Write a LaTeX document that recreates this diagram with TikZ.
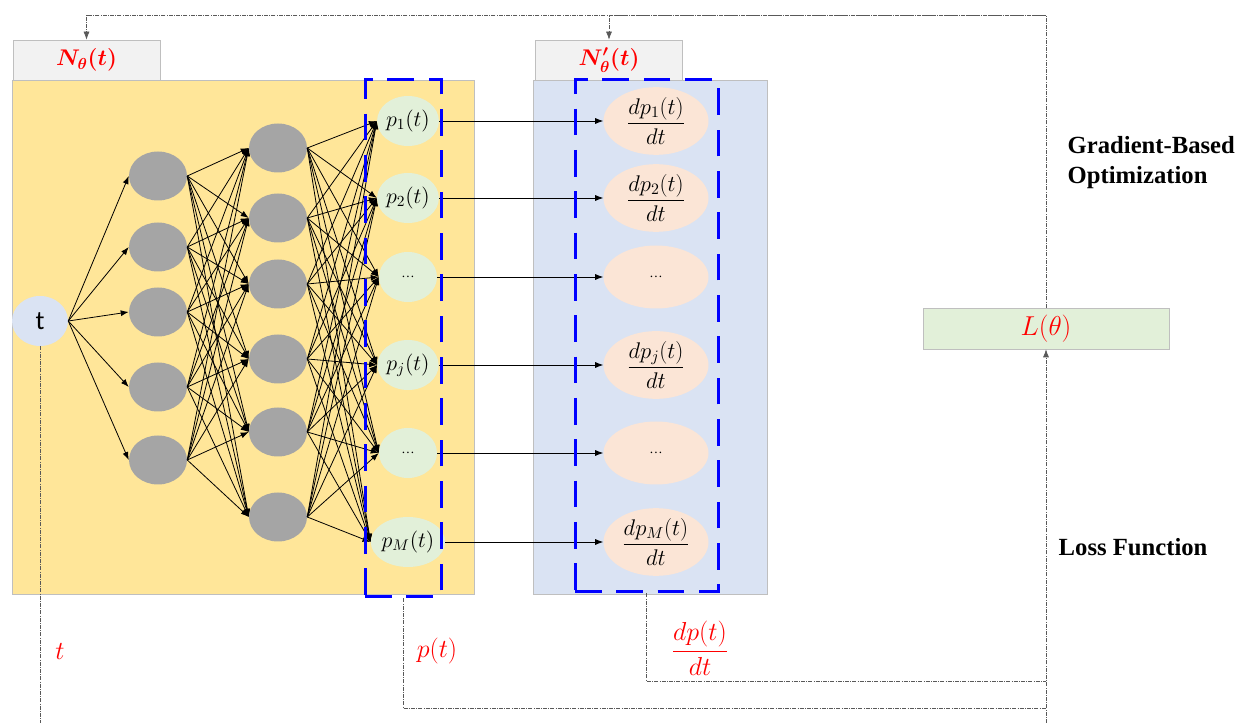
\RequirePackage{fix-cm}
\documentclass[tikz,border=0pt]{standalone}
\usepackage{amsmath}
\usepackage{fontspec}
\setmainfont{Liberation Serif}
\newfontfamily\calibri{Carlito}
\usetikzlibrary{arrows.meta, shapes.geometric}
\definecolor{nnyellow}{HTML}{FFE699}
\definecolor{nnblue}{HTML}{DAE3F3}
\definecolor{nngray}{HTML}{A5A5A5}
\definecolor{nngreen}{HTML}{E2F0D9}
\definecolor{nnpeach}{HTML}{FBE5D6}
\definecolor{nnlight}{HTML}{F2F2F2}
\definecolor{nnborder}{HTML}{BFBFBF}

\begin{document}
\begin{tikzpicture}[x=0.75pt, y=-0.75pt,
                inp/.style={ellipse, fill=nnblue, minimum width=42pt, minimum height=37.5pt, inner sep=0pt, font=\calibri\fontsize{20}{24}\selectfont},
                hid/.style={ellipse, fill=nngray, minimum width=43.5pt, minimum height=36.75pt, inner sep=0pt},
                outp/.style={ellipse, fill=nngreen, minimum width=43.5pt, minimum height=37.5pt, inner sep=0pt, font=\fontsize{16.5}{19}\selectfont},
                der/.style={ellipse, fill=nnpeach, minimum width=78.75pt, minimum height=47.25pt, inner sep=0pt, font=\fontsize{17}{20}\selectfont},
                tab/.style={rectangle, fill=nnlight, draw=nnborder, line width=0.5pt, minimum width=110.25pt, minimum height=30pt, inner sep=0pt, text=red, font=\fontsize{17}{20}\selectfont},
                grp/.style={rectangle, draw=blue, line width=2.25pt, dash pattern=on 20pt off 11pt, inner sep=0pt},
                link/.style={-{Latex[length=6pt,width=4.5pt]}, line width=0.6pt},
                flow/.style={draw=black!65, line width=0.5pt, densely dash dot},
                lbl/.style={text=red, font=\fontsize{19.5}{22}\selectfont},
                note/.style={font=\fontsize{18.5}{22.5}\selectfont\bfseries, align=left, anchor=west}]
                \useasboundingbox (0,0) rectangle (1240,723);
                \filldraw[fill=nnyellow, draw=nnborder, line width=0.5pt] (12,80) rectangle (474,594);
                \filldraw[fill=nnblue, draw=nnborder, line width=0.5pt] (533,80) rectangle (767,594);
                \node[tab] (nlab) at (86.5,60) {$\boldsymbol{N_\theta(t)}$};
                \node[tab] (nplab) at (609,60) {$\boldsymbol{N'_\theta(t)}$};
                \node[tab, fill=nngreen, minimum width=184.5pt, minimum height=30.75pt, font=\fontsize{20.5}{24}\selectfont] (L) at (1046,328.5) {$L(\theta)$};
                \node[inp] (t) at (40,321) {t};
                \node[hid] (a1) at (158,176) {};
                \node[hid] (a2) at (158,247) {};
                \node[hid] (a3) at (158,312) {};
                \node[hid] (a4) at (158,387) {};
                \node[hid] (a5) at (158,460) {};
                \node[hid] (b1) at (278,148) {};
                \node[hid] (b2) at (278,218) {};
                \node[hid] (b3) at (278,284) {};
                \node[hid] (b4) at (278,359) {};
                \node[hid] (b5) at (278,432) {};
                \node[hid] (b6) at (278,517) {};
                \node[outp] (p1) at (408,121) {$p_1(t)$};
                \node[outp] (p2) at (408,198) {$p_2(t)$};
                \node[outp, font=\fontsize{10}{12}\selectfont] (p3) at (408,277) {\dots};
                \node[outp] (p4) at (408,365) {$p_j(t)$};
                \node[outp, font=\fontsize{10}{12}\selectfont] (p5) at (408,453) {\dots};
                \node[outp] (p6) at (408,542) {$p_M(t)$};
                \node[der] (d1) at (656,121) {$\dfrac{dp_1(t)}{dt}$};
                \node[der] (d2) at (656,198) {$\dfrac{dp_2(t)}{dt}$};
                \node[der, font=\fontsize{10}{12}\selectfont] (d3) at (656,277) {\dots};
                \node[der] (d4) at (656,365) {$\dfrac{dp_j(t)}{dt}$};
                \node[der, font=\fontsize{10}{12}\selectfont] (d5) at (656,453) {\dots};
                \node[der] (d6) at (656,542) {$\dfrac{dp_M(t)}{dt}$};
                \foreach \i in {1,...,5}
                    \draw[link] (t.east) -- (a\i.west);
                \foreach \i in {1,...,5}
                    \foreach \j in {1,...,6}
                        \draw[link] (a\i.east) -- (b\j.west);
                \foreach \i in {1,...,6}
                    \foreach \j in {1,...,6}
                        \draw[link] (b\i.east) -- (p\j.west);
                \foreach \i in {1,...,6}
                    \draw[link] (p\i.east) -- (d\i.west);
                \node[grp, minimum width=57pt, minimum height=387.75pt] (pbox) at (403,338.5) {};
                \node[grp, minimum width=107.25pt, minimum height=384pt] (dbox) at (646.5,336) {};
                \coordinate (topR) at (1046,15);
                \coordinate (tend) at (40,723);
                \coordinate (lend) at (1046,723);
                \coordinate (pend) at (1046,708);
                \coordinate (dend) at (1046,681);
                \draw[flow, -{Latex[length=6pt,width=4.5pt]}] (L.north) -- (topR) -| (nlab.north);
                \draw[flow, -{Latex[length=6pt,width=4.5pt]}] (topR) -| (nplab.north);
                \draw[flow] (t.south) -- (tend);
                \draw[flow, -{Latex[length=6pt,width=4.5pt]}] (lend) -- (L.south);
                \draw[flow] (pbox.south) |- (pend);
                \draw[flow] (dbox.south) |- (dend);
                \node[lbl] (tlab) at (60,652) {$t$};
                \node[lbl] (plab) at (437,651) {$p(t)$};
                \node[lbl] (dlab) at (700,648) {$\dfrac{dp(t)}{dt}$};
                \node[note] (opt) at (1063,163) {Gradient-Based\\Optimization};
                \node[note] (loss) at (1054,547) {Loss Function};
            \end{tikzpicture}
\end{document}
